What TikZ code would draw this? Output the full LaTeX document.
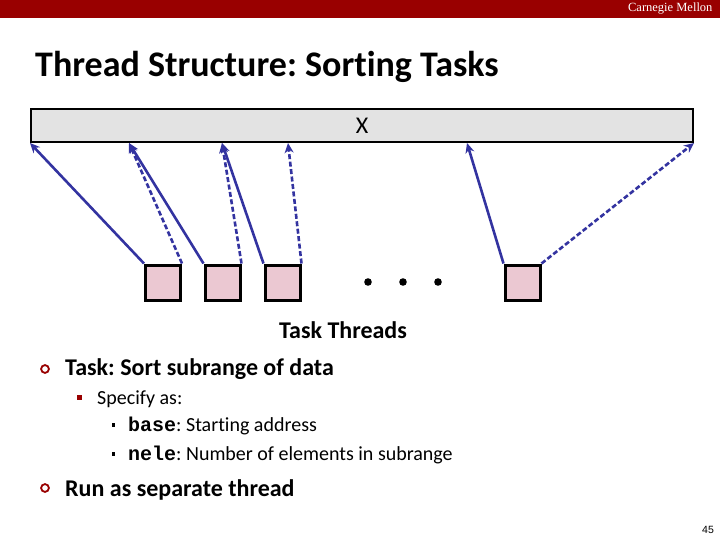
\documentclass[tikz,border=0pt]{standalone}
\usepackage{fontspec}
\setmainfont{Carlito}[Ligatures=NoCommon]
\setmonofont{Liberation Mono}
\newfontfamily\cmufont{Liberation Serif}
\newfontfamily\pagefont{Liberation Sans}
\usetikzlibrary{arrows.meta}
\definecolor{cmured}{RGB}{153,0,0}
\definecolor{ptrblue}{RGB}{51,51,160}
\definecolor{taskpink}{RGB}{235,200,210}
\definecolor{bargray}{RGB}{227,227,227}
\frenchspacing

\begin{document}
\begin{tikzpicture}[x=1pt,y=-1pt,
     task/.style={draw,line width=3pt,fill=taskpink,minimum size=35pt,inner sep=0pt},
     ptr/.style={draw=ptrblue,line width=2.6pt,-{Stealth[length=10pt,width=9pt]}},
     ptrdash/.style={ptr,dash pattern=on 5pt off 2.5pt},
     txt/.style={anchor=base west,inner sep=0pt}
     ]
   \useasboundingbox (0,0) rectangle (720,540);

   % header band and title
   \fill[cmured] (0,0) rectangle (720,18);
   \node[anchor=east,text=white,font=\cmufont\fontsize{12.5}{14}\selectfont] (cmu) at (716,9) {Carnegie Mellon};
   \node[txt,font=\fontsize{36}{40}\selectfont\bfseries] (title) at (35,77) {Thread Structure: Sorting Tasks};

   % the array and the task threads
   \node[draw,line width=2pt,fill=bargray,minimum width=662pt,minimum height=33pt,inner sep=0pt,
         font=\fontsize{24}{28}\selectfont] (bar) at (362,125.5) {X};

   \foreach \i/\x in {1/163,2/222.5,3/282.5,4/522.5}
   {
     \node[task] (t\i) at (\x,282.5) {};
   }
   \foreach \x in {368,403,438}
     \fill (\x,282) circle (3.8);

   \coordinate (e1) at (bar.south west);
   \coordinate (e2) at (129,143);
   \coordinate (e3) at (222,143);
   \coordinate (e4) at (288,143);
   \coordinate (e5) at (467,143);
   \coordinate (e6) at (bar.south east);

   \draw[ptr] (t1.north west) -- (e1);
   \draw[ptrdash] (t1.north east) -- (e2);
   \draw[ptr] (t2.north west) -- (e2);
   \draw[ptrdash] (t2.north east) -- (e3);
   \draw[ptr] (t3.north west) -- (e3);
   \draw[ptrdash] (t3.north east) -- (e4);
   \draw[ptr] (t4.north west) -- (e5);
   \draw[ptrdash] (t4.north east) -- (e6);

   \node[font=\fontsize{24}{28}\selectfont\bfseries] (lbl) at (343,330) {Task Threads};

   % bullet list
   \draw[cmured,line width=1.8pt] (45,369) circle (3.9);
   \node[txt,font=\fontsize{24}{28}\selectfont\bfseries] (b1) at (65,375) {Task: Sort subrange of data};
   \fill[cmured] (76.5,394.5) rectangle (81.5,399.5);
   \node[txt,font=\fontsize{20}{24}\selectfont] (b2) at (97,404) {Specify as:};
   \fill (111.5,423) rectangle (115,426.5);
   \node[txt,font=\fontsize{20}{24}\selectfont] (b3) at (128,431) {\texttt{\bfseries base}: Starting address};
   \fill (111.5,452) rectangle (115,455.5);
   \node[txt,font=\fontsize{20}{24}\selectfont] (b4) at (128,460) {\texttt{\bfseries nele}: Number of elements in subrange};
   \draw[cmured,line width=1.8pt] (45,488) circle (3.9);
   \node[txt,font=\fontsize{24}{28}\selectfont\bfseries] (b5) at (65,496) {Run as separate thread};

   \node[font=\pagefont\fontsize{10.5}{12}\selectfont] (page) at (708,530) {45};
\end{tikzpicture}
\end{document}
